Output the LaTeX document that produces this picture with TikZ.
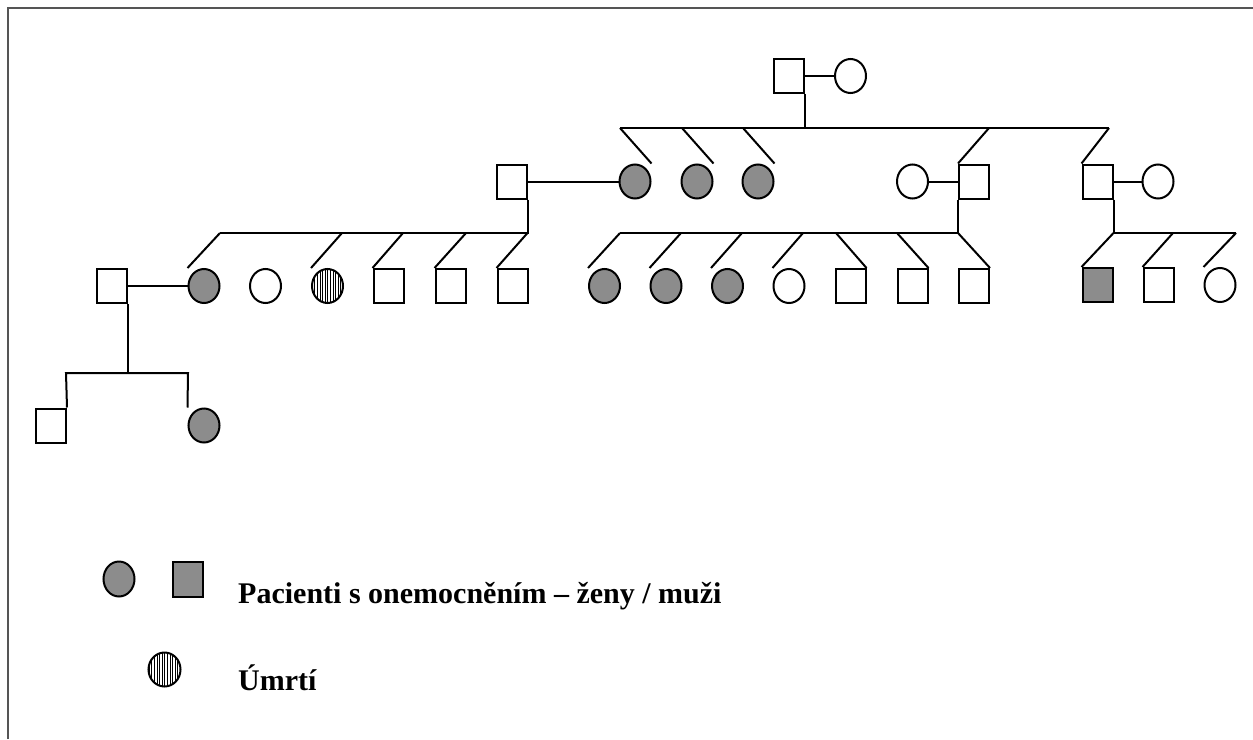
\documentclass[tikz,border=0pt]{standalone}
\usepackage{fontspec}
\setmainfont{Liberation Serif}
\usetikzlibrary{shapes.geometric}
\definecolor{affgray}{RGB}{140,140,140}
\definecolor{framegray}{RGB}{85,85,85}
\tikzset{
  ped/.style={line width=2pt, draw=black},
  male/.style={rectangle, draw=black, line width=2pt, minimum width=30pt, minimum height=34pt, inner sep=0pt, fill=white},
  female/.style={ellipse, draw=black, line width=2pt, minimum width=31pt, minimum height=34pt, inner sep=0pt, fill=white},
  aff/.style={fill=affgray},
  dead/.style={path picture={\foreach \k in {-18,-15.4,...,18}{\draw[line width=0.8pt] ([xshift=\k pt]path picture bounding box.north) -- ([xshift=\k pt]path picture bounding box.south);}}},
  legtext/.style={font=\bfseries\fontsize{30}{33}\selectfont, inner sep=0pt, anchor=base west}
}
\begin{document}
\begin{tikzpicture}[x=1pt,y=-1pt]
\useasboundingbox (0,0) rectangle (1253,739);
\draw[framegray, line width=2pt] (8,739) -- (8,8) -- (1253,8);

% Generation I
\node[male] (S1) at (788.5,76) {};
\node[female] (C1) at (850.5,76) {};
\draw[ped] (S1.east) -- (C1.west);

% Generation II
\node[male] (H1) at (511.5,181.5) {};
\node[female,aff] (D1) at (635,181.5) {};
\node[female,aff] (D2) at (697,181.5) {};
\node[female,aff] (D3) at (758,181.5) {};
\node[female] (W4) at (912.5,181.5) {};
\node[male] (M4) at (974,181.5) {};
\node[male] (M5) at (1097.5,181.5) {};
\node[female] (W5) at (1158,181.5) {};

\coordinate (s1L) at (620,128);
\coordinate (s1R) at (1109,128);
\coordinate (s1a) at (682,128);
\coordinate (s1b) at (743,128);
\coordinate (s1c) at (989,128);
\draw[ped] (S1.south east) -- (S1.south east |- s1L);
\draw[ped] (s1L) -- (s1R);
\draw[ped] (s1L) -- (D1.east |- D1.north);
\draw[ped] (s1a) -- (D2.east |- D2.north);
\draw[ped] (s1b) -- (D3.east |- D3.north);
\draw[ped] (s1c) -- (M4.north west);
\draw[ped] (s1R) -- (M5.north west);
\draw[ped] (H1.east) -- (D1.west);
\draw[ped] (W4.east) -- (M4.west);
\draw[ped] (M5.east) -- (W5.west);

% Generation III
\node[male] (H2) at (112,286) {};
\node[female,aff] (A1) at (204,286) {};
\node[female] (A2) at (265.5,286) {};
\node[female,dead] (A3) at (327.5,286) {};
\node[male] (A4) at (388.5,286) {};
\node[male] (A5) at (450.5,286) {};
\node[male] (A6) at (512.5,286) {};

\node[female,aff] (B1) at (604.5,286) {};
\node[female,aff] (B2) at (666,286) {};
\node[female,aff] (B3) at (727.5,286) {};
\node[female] (B4) at (789,286) {};
\node[male] (B5) at (850.5,286) {};
\node[male] (B6) at (912.5,286) {};
\node[male] (B7) at (974,286) {};

\node[male,aff] (R1) at (1097.5,285) {};
\node[male] (R2) at (1158.5,285) {};
\node[female] (R3) at (1220,285) {};

\coordinate (s2L) at (220,233);
\coordinate (s2a) at (342,233);
\coordinate (s2b) at (403,233);
\coordinate (s2c) at (466,233);
\draw[ped] (H1.south east) -- (H1.south east |- s2L) -- (s2L);
\draw[ped] (s2L) -- (A1.west |- A1.north);
\draw[ped] (s2a) -- (A3.west |- A3.north);
\draw[ped] (s2b) -- (A4.north west);
\draw[ped] (s2c) -- (A5.north west);
\draw[ped] (H1.south east |- s2L) -- (A6.north west);

\coordinate (s3L) at (620,233);
\coordinate (s3a) at (681,233);
\coordinate (s3b) at (742,233);
\coordinate (s3c) at (803,233);
\coordinate (s3d) at (836,233);
\coordinate (s3e) at (897,233);
\draw[ped] (M4.south west) -- (M4.south west |- s3L) -- (s3L);
\draw[ped] (s3L) -- (B1.west |- B1.north);
\draw[ped] (s3a) -- (B2.west |- B2.north);
\draw[ped] (s3b) -- (B3.west |- B3.north);
\draw[ped] (s3c) -- (B4.west |- B4.north);
\draw[ped] (s3d) -- (B5.north east);
\draw[ped] (s3e) -- (B6.north east);
\draw[ped] (M4.south west |- s3L) -- (B7.north east);

\coordinate (s4R) at (1236,233);
\coordinate (s4a) at (1173,233);
\draw[ped] (M5.south east) -- (M5.south east |- s4R) -- (s4R);
\draw[ped] (M5.south east |- s4R) -- (R1.north west);
\draw[ped] (s4a) -- (R2.north west);
\draw[ped] (s4R) -- (R3.west |- R3.north);

% Generation IV
\node[male] (G1) at (51,425.5) {};
\node[female,aff] (G2) at (204,425.5) {};
\coordinate (s5L) at (66,373);
\coordinate (s5R) at (188,373);
\draw[ped] (H2.east) -- (A1.west);
\draw[ped] (H2.south east) -- (H2.south east |- s5L);
\draw[ped] (G1.north east) -- (s5L) -- (s5R) -- (G2.west |- G2.north);

% Legend
\node[female,aff,minimum width=31pt,minimum height=35pt] (LF) at (119,579) {};
\node[male,aff,minimum width=30pt,minimum height=35pt] (LM) at (187.5,579) {};
\node[female,dead,minimum width=32pt,minimum height=34pt] (LD) at (164.5,669.5) {};
\node[legtext] (T1) at (238,603) {Pacienti s onemocněním – ženy / muži};
\node[legtext] (T2) at (238,690) {Úmrtí};
\end{tikzpicture}
\end{document}
